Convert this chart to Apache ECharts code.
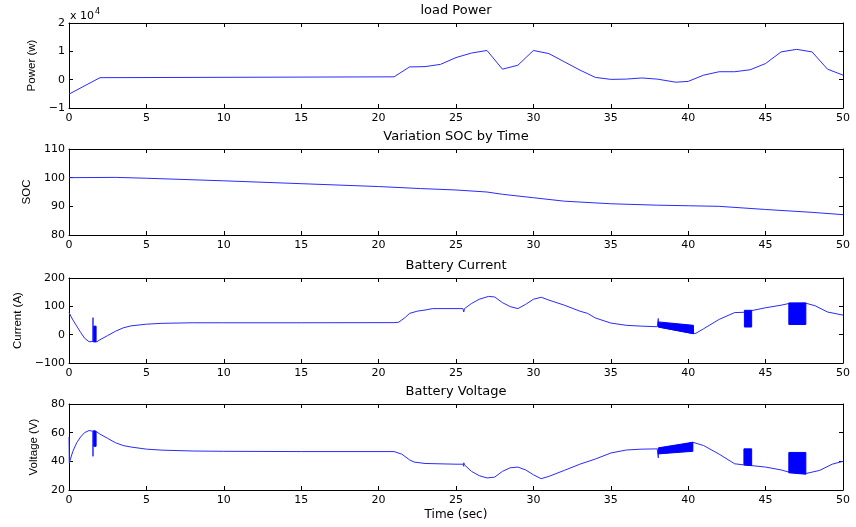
<!DOCTYPE html>
<html>
<head>
<meta charset="utf-8">
<script src="https://cdn.jsdelivr.net/npm/echarts@6/dist/echarts.min.js"></script>
<style>
html,body{margin:0;padding:0;background:#fff;}
#c{width:856px;height:527px;}
</style>
</head>
<body>
<div id="c"></div>
<script>
// ---------- DATA ----------
const xTicks = [0, 5, 10, 15, 20, 25, 30, 35, 40, 45, 50];

// Load power (W)
const powerTime = [0, 2, 21, 22, 23, 24, 25, 26, 27, 28, 29, 30, 31, 32, 33, 34, 35, 36, 37, 38, 39.2, 40, 41, 42, 43, 44, 45, 46, 47, 48, 49, 50];
const powerValue = [-5100, 700, 1000, 4500, 4600, 5400, 7800, 9400, 10300, 3700, 5100, 10300, 9200, 6300, 3400, 800, 100, 200, 600, 200, -900, -600, 1600, 2800, 2800, 3500, 5700, 9800, 10700, 9800, 3700, 1600];

// State of charge (%)
const socTime = [0, 3, 5, 10, 15, 20, 22.7, 25, 27, 28, 30, 32, 35, 38, 40, 42, 45, 48, 50];
const socValue = [100, 100.1, 99.8, 98.9, 97.9, 96.9, 96.2, 95.7, 95.0, 94.2, 93.0, 91.8, 90.9, 90.4, 90.2, 90.0, 88.9, 87.9, 87.1];

// Battery current (A)
const currentTime = [0, 0.25, 0.5, 0.75, 1, 1.3, 1.55, 1.55, 1.55, 1.8, 2, 2.5, 3, 3.5, 4, 5, 6, 8, 10, 15, 21, 21.3, 21.7, 22, 22.5, 23, 23.5, 25, 25.45, 25.5, 25.55, 26, 26.5, 27.1, 27.5, 28, 28.5, 29, 29.5, 30, 30.5, 31, 32, 33, 33.5, 34, 35, 36, 37, 38, 38.07, 38.07, 40.34, 40.5, 41, 42, 43, 43.6, 44.1, 45, 46, 46.5, 47.6, 48.2, 49, 50];
const currentValue = [78, 52, 30, 8, -12, -25, -24, 60, -25, -25, -18, -3, 12, 24, 31, 37, 40, 42, 42, 42, 42.5, 44, 60, 75, 83, 87, 92, 92, 92, 80, 92, 110, 125, 135, 133, 113, 99, 92, 107, 125, 132, 122, 104, 83, 75, 59, 41, 33, 30, 28, 57, 27, 3.5, 5, 21, 54, 78, 79, 85, 95, 104, 110, 111, 102, 80, 69];
// rapid switching bands: [tStart, tEnd, lowStart, highStart, lowEnd, highEnd]
const currentBands = [
  [1.6, 1.75, -25, 30, -25, 30],
  [38.07, 40.34, 27, 45, 3.5, 33],
  [43.63, 44.1, 27, 86, 27, 86],
  [46.5, 47.6, 36, 112, 36, 112]
];

// Battery voltage (V)
const voltageTime = [0, 0.02, 0.25, 0.5, 0.75, 1, 1.3, 1.55, 1.55, 1.55, 1.8, 2, 2.5, 3, 3.5, 4, 5, 6, 8, 10, 15, 21, 21.5, 22, 22.3, 23, 25, 25.45, 25.5, 25.5, 25.55, 26, 26.5, 27, 27.5, 28, 28.5, 29, 29.5, 30, 30.5, 31, 32, 33, 34, 35, 36, 37, 38, 38.07, 38.07, 40.3, 41, 42, 43, 43.6, 44.1, 45, 46, 46.5, 47.6, 48.5, 49.3, 50];
const voltageValue = [57, 39, 47, 53, 57, 60, 61.5, 61, 43.5, 61, 60.5, 59, 56, 53, 51, 50, 48.5, 47.8, 47.2, 47, 46.8, 46.8, 45, 41, 39.5, 38.5, 38, 38, 36.5, 39, 37.5, 33, 30, 28.4, 29, 33, 35.5, 36, 34, 30.6, 27.9, 29.5, 33.7, 38, 41.6, 45.8, 47.9, 48.5, 48.7, 42.4, 47, 53.3, 51, 45, 38.3, 37.5, 37, 36, 34, 32.5, 31.5, 33.7, 38, 40];
const voltageBands = [
  [1.6, 1.75, 50.5, 61.5, 50.5, 61],
  [38.07, 40.3, 45.2, 49.4, 47, 53.3],
  [43.6, 44.1, 37.5, 48.7, 37, 48.7],
  [46.5, 47.6, 32, 46.2, 31, 46.2]
];

// Panels: titles, y-axis names and ranges
const panelTitles = ['load Power', 'Variation SOC by Time', 'Battery Current', 'Battery Voltage'];
const yNames = ['Power (w)', 'SOC', 'Current (A)', 'Voltage (V)'];
const yMin = [-10000, 80, -100, 20];
const yMax = [20000, 110, 200, 80];
const yInterval = [10000, 10, 100, 20];

// ---------- LAYOUT ----------
const FONT = '"DejaVu Sans", Verdana, sans-serif';
const NAMEFONT = '"Liberation Sans", Arial, sans-serif';
const LINE = '#2a2aff';
const FILL = '#0000ff';
const gridTops = [23, 149, 278, 404];
const gridHeights = [85, 86, 85, 86];
const titleTops = [4, 130, 259, 385];
const nameGaps = [26, 36, 45, 26];

function fmtNum(v) {
  const s = String(Math.abs(v));
  return v < 0 ? '\u2212' + s : s;
}

const grids = [], xAxes = [], yAxes = [], series = [], titles = [];
for (let i = 0; i < 4; i++) {
  grids.push({ left: 69, right: 13, top: gridTops[i], height: gridHeights[i] });
  const tickStyle = { show: true, inside: true, length: 4, lineStyle: { color: '#000', width: 1 } };
  const axisLine = { show: true, onZero: false, lineStyle: { color: '#000', width: 1 } };
  xAxes.push({
    type: 'value', gridIndex: i, min: 0, max: 50, interval: 5, position: 'bottom',
    axisLine: axisLine, axisTick: tickStyle, splitLine: { show: false },
    axisLabel: { color: '#000', fontFamily: FONT, fontSize: 11, margin: 5, formatter: fmtNum },
    name: i === 3 ? 'Time (sec)' : '', nameLocation: 'middle', nameGap: 19,
    nameTextStyle: { color: '#000', fontFamily: FONT, fontSize: 12 }
  });
  xAxes.push({
    type: 'value', gridIndex: i, min: 0, max: 50, interval: 5, position: 'top',
    axisLine: axisLine, axisTick: tickStyle, splitLine: { show: false }, axisLabel: { show: false }
  });
  const fmtY = i === 0 ? (v => fmtNum(v / 10000)) : fmtNum;
  yAxes.push({
    type: 'value', gridIndex: i, min: yMin[i], max: yMax[i], interval: yInterval[i], position: 'left',
    axisLine: axisLine, axisTick: tickStyle, splitLine: { show: false },
    axisLabel: { color: '#000', fontFamily: FONT, fontSize: 11, margin: 4, formatter: fmtY },
    name: yNames[i], nameLocation: 'middle', nameGap: nameGaps[i],
    nameTextStyle: { color: '#000', fontFamily: NAMEFONT, fontSize: 11.5 }
  });
  yAxes.push({
    type: 'value', gridIndex: i, min: yMin[i], max: yMax[i], interval: yInterval[i], position: 'right',
    axisLine: axisLine, axisTick: tickStyle, splitLine: { show: false }, axisLabel: { show: false }
  });
  titles.push({
    text: panelTitles[i], left: 456, top: titleTops[i], textAlign: 'center', padding: 0,
    textStyle: { color: '#000', fontFamily: FONT, fontSize: 13, fontWeight: 'normal' }
  });
}

function zip(a, b) { return a.map((t, k) => [t, b[k]]); }
function lineSeries(i, t, v) {
  return {
    type: 'line', xAxisIndex: 2 * i, yAxisIndex: 2 * i, data: zip(t, v),
    showSymbol: false, symbol: 'none', animation: false,
    lineStyle: { color: LINE, width: 1 }, z: 3
  };
}
function bandSeries(i, bands) {
  return {
    type: 'custom', xAxisIndex: 2 * i, yAxisIndex: 2 * i, data: bands, animation: false,
    encode: { x: [0, 1], y: [2, 3, 4, 5] }, z: 4,
    renderItem: function (params, api) {
      const t0 = api.value(0), t1 = api.value(1);
      const p1 = api.coord([t0, api.value(2)]);
      const p2 = api.coord([t0, api.value(3)]);
      const p3 = api.coord([t1, api.value(5)]);
      const p4 = api.coord([t1, api.value(4)]);
      return { type: 'polygon', shape: { points: [p1, p2, p3, p4] }, style: { fill: FILL, stroke: FILL, lineWidth: 1 } };
    }
  };
}

series.push(lineSeries(0, powerTime, powerValue));
series.push(lineSeries(1, socTime, socValue));
series.push(lineSeries(2, currentTime, currentValue));
series.push(bandSeries(2, currentBands));
series.push(lineSeries(3, voltageTime, voltageValue));
series.push(bandSeries(3, voltageBands));

const chart = echarts.init(document.getElementById('c'), null, { renderer: 'canvas' });
chart.setOption({
  backgroundColor: '#fff',
  animation: false,
  title: titles,
  grid: grids,
  xAxis: xAxes,
  yAxis: yAxes,
  series: series,
  graphic: [{
    type: 'text', left: 70, top: 8,
    style: {
      text: '{a|x 10}{s|4}', fill: '#000',
      rich: {
        a: { fontFamily: FONT, fontSize: 11, fill: '#000', verticalAlign: 'bottom' },
        s: { fontFamily: FONT, fontSize: 8, fill: '#000', verticalAlign: 'top', padding: [0, 0, 6, 1] }
      }
    }
  }]
});
</script>
</body>
</html>
